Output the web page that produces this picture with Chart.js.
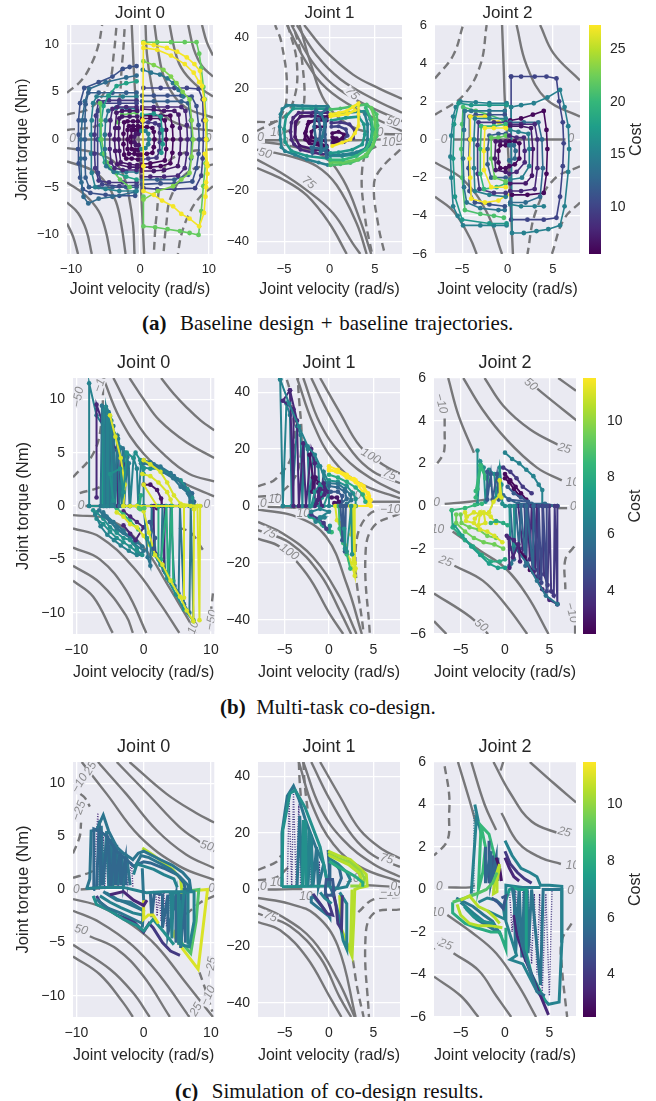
<!DOCTYPE html>
<html>
<head>
<meta charset="utf-8">
<script src="https://cdn.jsdelivr.net/npm/chart.js@4"></script>
<style>
  html, body { margin: 0; padding: 0; background: #fff; }
  #page { position: relative; width: 656px; height: 1101px; overflow: hidden; }
  #page canvas { position: absolute; }
  .cap { position: absolute; font: 21px "Liberation Serif", serif; color: #111; white-space: nowrap; }
</style>
</head>
<body>
<div id="page">
  <div class="cap" style="left:142px;top:311px;word-spacing:1.5px"><b>(a)</b>&nbsp; Baseline design + baseline trajectories.</div>
  <div class="cap" style="left:220px;top:695px"><b>(b)</b>&nbsp; Multi-task co-design.</div>
  <div class="cap" style="left:175px;top:1079px;word-spacing:1.5px"><b>(c)</b>&nbsp; Simulation of co-design results.</div>
</div>
<script>
// axis ticks
const ticksV0 = [-10, 0, 10];
const ticksV = [-5, 0, 5];
const ticksT0 = [-10, -5, 0, 5, 10];
const ticksT1 = [-40, -20, 0, 20, 40];
const ticksT2 = [-6, -4, -2, 0, 2, 4, 6];
const costTicksA = [10, 15, 20, 25];
const costTicksB = [4, 6, 8, 10];
const costRangeA = [5.5, 27.3];
const costRangeB = [2.5, 11.5];
const viridis = ['#440154','#482878','#3e4989','#31688e','#26828e','#1f9e89','#35b779','#6ece58','#b5de2b','#fde725'];

// ---- row a, joint 0
const a0Solid = [
  [-10.6,-.9,-7,-1.3,-4,-2.2,-2.5,-3.6,-1.6,-6,-1,-9,-.8,-12],
  [-10.6,-2.3,-7,-3.2,-5,-4.5,-3.5,-6.5,-2.7,-9,-2.1,-12],
  [-10.6,-4.5,-8,-5.8,-6,-7.5,-5,-9.5,-4.3,-12],
  [-10.6,-6.6,-9,-7.7,-7.8,-9.5,-7,-12],
  [-10.6,-8.8,-9.7,-10.2,-9,-12],
  [10.6,.9,7,1.3,4,2.2,2.5,3.6,1.6,6,1,9,.8,12],
  [10.6,2.3,7,3.2,5,4.5,3.5,6.5,2.7,9,2.1,12],
  [10.6,4.5,8,5.8,6,7.5,5,9.5,4.3,12],
  [10.6,6.6,9,7.7,7.8,9.5,7,12],
  [10.6,8.8,9.7,10.2,9,12],
  [-1.2,12,-.8,6,-.2,0,.2,-6,.6,-12],
  [-9,0,-4,0,0,0,4,0,9,0]
];
const a0Dashed = [
  [-10.6,4.9,-8.5,6.2,-7,8,-6,10,-5.5,12],
  [-10.6,2.6,-7,3.4,-4.5,6,-3.8,9,-3.4,12],
  [-10.6,1,-6,1.5,-3.5,3,-2.6,8,-2.2,12],
  [10.6,-4.9,8.5,-6.2,7,-8,6,-10,5.5,-12],
  [10.6,-2.6,7,-3.4,4.5,-6,3.8,-9,3.4,-12],
  [10.6,-1,6,-1.5,3.5,-3,2.4,-8,2,-12]
];
const a0Labels = [[-9.8,.1,'0',0],[9.9,.1,'0',0]];
const a0Traj = [
  [11,[-.7,-5.9,-3,-5.9,-5,-5.8,-7.2,-5.6,-8.3,-5.2,-8.7,-4,-8.9,-2.5,-9,-1,-8.9,.5,-8.9,2,-8.7,3.8,-8.1,5.4,-6,6,-4,6.6,-2.5,7.4,-1.5,7.6,-.5,7.7]],
  [13,[-.7,-5.5,-4,-6,-6,-6.2,-7.5,-6.7,-8.2,-6,-8.5,-4.5,-8.6,-2,-8.6,0,-8.4,2,-8,4,-7.4,5.3,-5,6,-2,6.5,-.5,6.7]],
  [12,[-.5,-5,-2,-5,-4,-5,-6,-5,-7.4,-5,-7.9,-4,-8,-2,-8,0,-8,2,-7.9,3.7,-7.5,4.9,-6,4.9,-4,4.9,-2,4.9,-.5,4.9]],
  [15,[-.5,-5.4,-3,-5.4,-5,-5.2,-6.5,-5,-7,-3.5,-7.1,-1.5,-7.1,.5,-7,2,-6.8,3.8,-6.3,4.5,-4.5,4.5,-2.5,4.5,-.5,4.5]],
  [9,[-.5,-4.5,-2.5,-4.5,-4.5,-4.5,-6,-4.3,-6.5,-3,-6.6,-1.5,-6.6,.5,-6.4,2.5,-6,4,-4.5,4.1,-3,4.1,-.5,4.1]],
  [10,[-.5,-4.8,-3,-4.9,-5.5,-4.7,-6.1,-3.5,-6.2,0,-6.1,3,-5.5,3.8,-3,3.8,-.5,3.8]],
  [18,[-.5,6.1,-2,5.9,-3.4,5.6,-4.6,4.6,-5.3,3.5,-5.7,1.5,-5.8,0,-5.5,-1.5,-5.1,-2.4,-4.3,-3,-3.4,-3.5,-2,-3.9,-.5,-4.2]],
  [22,[-5.8,3.8,-5.7,2,-5.6,0,-5.2,-1.5,-4.8,-2.4,-3.9,-3.3,-2.9,-4.2,-1.5,-5]],
  [22,[-.5,2.8,-1.5,2.7,-2.6,2.6,-3.2,1.8]],
  [14,[-.5,3.2,-2,3.3,-3.5,3.3,-4.6,3,-5,2,-5.1,.5,-5.1,-1,-4.9,-2.8,-3.8,-3.4,-2,-3.4,-.5,-3.4]],
  [8,[-.5,3.4,-2,3.4,-3.3,3.4,-4,3.2,-4.3,2,-4.4,.5,-4.4,-1,-4.2,-2.4,-3.7,-3,-2.5,-3.2,-.5,-3.2]],
  [7,[-.4,3,-1.5,3,-2.6,3,-3.4,2.8,-3.6,1.2,-3.7,0,-3.6,-1.2,-3.3,-2.6,-1.5,-2.9,-.4,-2.9]],
  [7,[-.4,2.4,-1.5,2.4,-2.6,2.4,-3,2.2,-3.1,1.2,-3.1,0,-3,-1.2,-2.8,-2.4,-1.5,-2.6,-.4,-2.7]],
  [6,[-.3,1.9,-1,1.9,-1.8,1.9,-2.3,1.8,-2.4,.6,-2.4,-.5,-2.3,-1.6,-2,-2,-1.2,-2,-.3,-2.1]],
  [6,[-.3,1.4,-1,1.4,-1.6,1.4,-1.8,1,-1.8,0,-1.8,-1,-1.6,-1.5,-.8,-1.5,-.3,-1.6]],
  [6,[-.3,1,-.8,1,-1.2,1,-1.3,.3,-1.3,-.3,-1.2,-1,-.8,-1.1,-.3,-1.1]],
  [7,[-.2,.6,-.6,.6,-.8,.3,-.8,-.3,-.6,-.6,-.2,-.6]],
  [11,[.3,4.6,2,4.6,4,4.6,6,4.6,7.5,4.5,8.2,3.5,8.5,1.5,8.6,0,8.5,-1.5,8.2,-3,7.6,-4.4,5,-4.6,3,-4.6,.3,-4.7]],
  [10,[.5,5.4,3,5.4,5,5.4,6.8,5.4,8.5,5.3,9.1,4.2,9.2,2,9.2,0,9.1,-2,8.9,-3.8,8,-5.1,5,-5.2,2.5,-5.2,.5,-5.1]],
  [12,[.3,4,2,4,4,4,6,4,7,3.8,7.4,2,7.5,0,7.4,-2,7,-3.7,5,-4.2,2.5,-4.2,.3,-4.2]],
  [8,[.3,3.4,2,3.4,4,3.4,6,3.4,6.6,3,6.8,1.5,6.9,0,6.8,-1.5,6.5,-3,5.5,-3.8,3.5,-3.9,1.5,-3.9,.3,-3.9]],
  [14,[.4,7.3,1.6,7,2.9,6.8,4,6.4,4.8,5.9,5.6,5.2,6.3,4.5]],
  [7,[.3,3.2,2,3.1,3.5,3,5,3,5.6,2.6,5.8,1.2,5.9,0,5.8,-1.5,5.5,-2.8,3.5,-3.2,2,-3.3,.3,-3.3]],
  [6,[.3,2.5,1.5,2.5,3,2.5,4.4,2.5,4.7,1.4,4.8,0,4.7,-1.4,4.4,-2.5,3,-2.8,1.5,-2.9,.3,-2.9]],
  [6,[.3,2.2,1.5,2.2,3,2.2,3.6,2,3.8,1,3.8,0,3.8,-1,3.6,-2.2,1.5,-2.5,.3,-2.6]],
  [9,[.3,1.8,1.2,1.8,2.2,1.7,2.8,1.5,2.9,.7,2.9,-.3,2.8,-1.2,2.4,-1.9,1.2,-2,.3,-2.1]],
  [6,[.2,1.3,1,1.3,1.8,1.2,2,.8,2.1,0,2,-.8,1.8,-1.4,1,-1.5,.2,-1.6]],
  [15,[.2,.9,.8,.9,1.2,.6,1.3,0,1.2,-.5,.8,-.9,.2,-1]],
  [17,[.3,2.6,2,2.7,3,2.4,3.2,1,3.3,-.5,3.1,-1.4]],
  [22,[.5,10.2,2.5,10.2,4.5,10.2,6.5,10.2,8.2,10.2,8.6,9,8.9,7.5,9.2,5.5,9.4,4.2,9.6,2,9.7,0,9.5,-2.5,9.2,-4.9,8.9,-7.5,8.5,-10,7.2,-9.8,5.8,-9.6,4,-9.4,2.2,-9.2,.5,-9.1,.5,-6]],
  [23,[.5,8.2,2,7.8,3.4,7.3,4.5,6.6,5.3,5.9,6.2,5,7.2,4.2,7.5,2,7.7,0,7.5,-1.8,7.2,-3.5,6,-4.2,4.8,-4.9,2.6,-5.4,.5,-6.3]],
  [27,[.5,10.1,2,9.9,3.9,9.6,5.4,9.2,6.8,8.6,7.9,7.9,8.7,7.2,9,5.6,9.3,4.2,9.5,2,9.6,0,9.8,-2.8,9.6,-5,9.3,-7.7,8.6,-9.1,7.2,-8.3,6,-7.8,4.8,-7,3.2,-6.4,2,-5.8,.5,-5.4,.5,-2.8,.4,2,.5,10.1]],
  [27,[.5,9.6,2.5,9.4,4.5,8.8,6.5,7.9,7.8,7,8.6,6]],
  [27,[9.4,-1.5,9.7,-2.5,9.8,-3.6,9.6,-4.5,9.5,-6]]
];

// ---- row a, joint 1
const a1Solid = [
  [-3.6,45,-1.4,33,1.2,23.7,4.9,15.8,8,10.5],
  [-4.2,45,-2,31,.4,21.5,3.5,14.5,8,7.2],
  [-4.7,45,-2.5,30,-.3,20,3,12,8,3.3],
  [-2.8,45,-.5,35,2.6,25.5,5.5,20,8,16],
  [-8,-7.9,-5.4,-13,-2.5,-20,.4,-29,2.6,-41,3.4,-45],
  [-8,-11.2,-5.1,-15.8,-2.5,-22,0,-33,1.9,-45],
  [-8,-4,-4.3,-6.6,-1.4,-10.5,.8,-18,3,-33,4.1,-45],
  [-8,-.7,-4.3,-2.6,-.7,-6.6,1.5,-15.8,3.4,-32,4.6,-45],
  [-8,-.3,-3,-.3,3,-.3,8,.3],
  [8,2,5,2.5,2,6,-.5,15,-2,29,-3.3,45]
];
const a1Dashed = [
  [-8,3.3,-5.4,9.2,-4.7,20,-5.3,38,-6,45],
  [-8,6.9,-5.6,7.5,-4,15,-3.6,30,-4.6,45],
  [-8,1.5,-4.5,3.5,-3,10,-3,30,-4,45],
  [7.8,-4,5.6,-11.8,4.9,-18,5.4,-34,6.1,-45],
  [8,-1.5,4.5,-4,3.6,-12,3.9,-30,4.7,-45]
];
const a1Labels = [[2.5,18,'75',45],[7,7,'50',15],[5.2,2.6,'10',0],[-5.8,2.6,'10',0],[-7.6,.6,'0',0],[7.7,.3,'0',0],[6.5,-1.3,'10',0],[-4.9,-1.3,'0',0],[-7.1,-5.5,'50',15],[-2.3,-17,'75',40]];
const a1Traj = [
  [15,[-.2,13,-1.5,13,-3,13.2,-4,13.4,-4.7,13.4,-5.2,12,-5.4,9.9,-5.5,5,-5.4,0,-5.3,-3,-4.9,-4.6,-3.8,-6,-2.5,-7.9,-1.2,-9,-.2,-10]],
  [17,[-.2,12,-2,12.2,-4,12.2,-4.8,9,-5,4,-4.9,-1,-4.2,-4.5,-2.5,-6.5,-.2,-7.5]],
  [8,[-.2,10.5,-1.8,10.6,-3.4,10.5,-4,8.5,-4.2,6.6,-4.3,3,-4.2,0,-3.9,-2,-3.2,-4,-1.8,-5.2,-.2,-6]],
  [7,[-.2,9,-2,9.3,-3.2,9,-3.7,7,-3.8,1,-3.3,-2.5,-1.5,-4,-.2,-4.4]],
  [6,[-.3,7.5,-1.3,7.5,-2.3,7,-2.6,3,-2.7,0,-2.2,-1.5,-1,-2.5,-.3,-3]],
  [6,[-.3,8.5,-1.5,8,-2.4,6,-2.7,2.5,-2.2,-.2,-1.2,-1.5,-.3,-2.5]],
  [6,[-.5,5,-1.5,5,-2,3,-2,1,-1.2,0,-.5,-.5]],
  [13,[-.3,12,-1,10,-1.5,11.5,-1.7,5,-1.5,0,-1.9,-5,-2,-3,-.5,-4,-.3,-7]],
  [12,[-1.2,8,-1,4,-1.1,0,-.9,-3,-.3,-5,-.5,2,-.4,8]],
  [14,[-.9,10,-.5,6,-.8,1,-1,-5,-.3,-3]],
  [16,[.1,9.9,2,10.5,4.1,11.2,4.5,8,4.7,4,4.5,-2.6,3.6,-4.5,2.6,-6,1.4,-6.5,.1,-6.5]],
  [15,[.1,-6,1.5,-6,3,-5,4,-3.5,4.2,0,4.2,6,3.9,10]],
  [17,[.2,7.5,1.8,8.5,3.2,9,3.8,6,3.9,2,3.6,-2,2.5,-4,1,-5,.1,-5.3]],
  [21,[.1,11.8,1.2,12.2,2.3,12.9,3.2,13.4,4.1,13.8,4.7,12,5.2,9.9,5.3,5.5,5.2,1.3,4.8,-2.5,4.1,-6.6,3.2,-8,2.3,-9.2,1.2,-9.7,.1,-10.1]],
  [22,[.1,-9,1.5,-9,3,-8,4,-6,4.8,-2,5,2,5,8,4.6,12.5]],
  [20,[.1,-8,1.5,-8,3,-6.5,4,-4,4.6,0,4.8,4,4.6,8,4,12.5]],
  [9,[.2,6.5,1.2,6.8,2.2,6,2.8,3.5,2.6,.5,1.6,-1,.3,-1.4]],
  [10,[.2,5,1,5.2,1.8,4,2,1.5,1.4,0,.4,-.5]],
  [6,[.3,2.5,1,3,1.6,2,1.4,.5,.8,-.5,.4,.5]],
  [6,[.3,1,.8,.5,.9,-1,.4,-1]],
  [27,[.1,9.9,1,10.4,1.9,11.2,2.6,12.8,3.2,14.2,3.2,10,3.2,5.3,2.8,2.5,2.3,0,1.4,-1.2,.3,-2.6]],
  [27,[.1,9,1,9.5,2,10,2.8,11.5]]
];

// ---- row a, joint 2
const a2Solid = [
  [-.6,6,-.4,3.5,-.3,2.1,0,0,.3,-3,.6,-6],
  [1,6,2.1,3.9,4.3,2.1,8,1.2],
  [3.6,6,5.1,4.5,8,3.1],
  [-8,-1.2,-4.9,-2.1,-2.3,-3.8,-.6,-6],
  [-8,-3,-5.9,-3.8,-4.1,-5.2,-3.4,-6],
  [-6,0,-3,0,0,0,3,0,6.4,0]
];
const a2Dashed = [
  [-8,3.2,-6,4.4,-4.9,6],
  [-8,1.3,-4.9,2.3,-3,3.9,-2.3,6],
  [8,-1.4,5.1,-2.1,3.1,-3.8,2.2,-6],
  [8,-3.3,6.2,-4.2,4.9,-6]
];
const a2Labels = [[-7,0,'0',0],[7,.05,'0',0]];
const a2Traj = [
  [15,[-.1,1.9,-2,1.9,-3.5,1.95,-5.2,2,-5.7,1.7,-6,1.2,-6.2,.2,-6.3,-.9,-6.2,-2,-6,-3.5,-5.5,-4,-4.9,-4.5,-3,-4.5,-1.5,-4.5,-.1,-4.5]],
  [17,[-.1,1.8,-2,1.8,-4,1.8,-5.4,1.9,-5.9,.8,-6,-1,-5.8,-3,-5,-4.2,-2,-4.4,-.1,-4.4]],
  [21,[-.4,1,-2,1.3,-3.5,1.5,-4.9,1.7,-5,.8,-5.1,-.5,-5,-2,-4.7,-3.7,-3,-3.9,-1.5,-4,-.4,-4.1]],
  [14,[-.3,1.5,-2,1.5,-4,1.5,-4.7,1.5,-4.8,.5,-4.9,-1,-4.8,-2.5,-4.5,-3.3,-3,-3.6,-1,-3.7,-.3,-3.7]],
  [11,[-.3,1.3,-2,1.3,-3.5,1.3,-4.2,1.2,-4.2,0,-4.3,-1.5,-4.2,-2.7,-3.6,-3.3,-2,-3.4,-.3,-3.5]],
  [27,[-.1,.6,-1,.9,-2.5,1.2,-4.1,1.2,-4.1,0,-4.2,-1,-4.1,-2,-4,-3.1,-2.5,-3.3,-1,-3.2,-.1,-2.9]],
  [15,[-.2,1.1,-2,1.1,-3.6,1.1,-3.7,0,-3.7,-1.5,-3.6,-2.7,-2,-2.9,-.2,-3]],
  [9,[-.2,.9,-1.5,.9,-3.2,.9,-3.3,-.3,-3.3,-1.8,-3.1,-2.6,-1.5,-2.8,-.2,-2.8]],
  [20,[-.2,.8,-1.5,.7,-2.9,.7,-3,-.5,-3,-1.8,-2.6,-2.6,-1.2,-2.5,-.2,-2.3]],
  [27,[-.2,.6,-1.5,.6,-2.5,.6,-2.6,-.6,-2.6,-1.6,-1.8,-2.5,-.2,-2.5]],
  [12,[-.2,.3,-1,.3,-2,.2,-2.2,-.5,-2.2,-1.3,-1.8,-2,-.2,-2]],
  [22,[-.2,.2,-1,.1,-1.8,.1,-1.8,-1,-1.4,-2,-.2,-2.2]],
  [7,[-.2,-.1,-.8,-.1,-1.3,-.1,-1.4,-1,-1.3,-1.6,-.2,-1.7]],
  [6,[-.2,-.3,-.8,-.3,-1,-.6,-1,-1.2,-.8,-1.5,-.2,-1.5]],
  [10,[.4,3.3,1.5,3.3,3,3.3,4.3,3.3,5.4,3.2,5.7,2,6.1,.9,6.2,-.2,6.1,-1.4,5.8,-3,5.4,-4.1,4,-4.2,2.2,-4.2,.4,-4.2,.4,3.3]],
  [15,[.4,1.7,1.5,1.8,2.9,1.9,4.4,2.2,5.8,2.6,6.3,1.7,6.7,.7,6.8,-.5,6.7,-1.7,6.3,-3.5,5.8,-4.5,4.5,-4.7,3.2,-4.8,1.8,-4.9,.5,-4.9,.4,1.7]],
  [15,[.3,-3.4,1.5,-3.5,3,-3.5,4,-3.5]],
  [6,[.3,1,1.5,1.1,2.8,1.3,4,1.5,4.3,.5,4.4,-.5,4.3,-1.8,4,-2.8,2.2,-2.9,.5,-2.9]],
  [13,[.3,.9,1.8,.9,3.4,.9,3.8,0,3.9,-1.5,3.6,-3,2,-3.3,.3,-3.3]],
  [8,[.3,.8,1.5,.8,3,.8,3.3,0,3.3,-1.5,3,-2.6,1.5,-2.7,.3,-2.7]],
  [7,[.3,.7,1.5,.7,2.6,.6,2.8,-.5,2.7,-1.9,2,-2.3,.3,-2.3]],
  [15,[.3,.5,1.2,.4,2.3,.3,2.4,-.5,2.4,-1.4,1.6,-2,.3,-2.1]],
  [8,[.2,.2,1,.1,1.8,.1,1.9,-.6,1.9,-1.2,1,-1.7,.2,-1.8]],
  [6,[.2,-.1,.8,-.1,1.3,-.2,1.3,-1,.8,-1.3,.2,-1.4]],
  [13,[.2,-.3,.7,-.3,.9,-.6,.8,-1,.2,-1.1]]
];

// ---- row b, joint 0
const b0Solid = [
  [2.6,12,4.5,10.5,6.3,9.3,8.5,8,10.5,7.1],
  [-2.1,12,0,10,2.4,8,6.3,6,10.5,4.5],
  [-4.5,12,-.6,7.4,3.4,4.6,6.8,3,10.5,2.3],
  [-6,12,-3.6,8.3,0,4.9,4.3,2.7,10.5,.9],
  [-10.5,-.85,-5,-1.3,-.1,-3.8,3.4,-7.2,7.8,-11.9],
  [-10.5,-2.1,-6.5,-2.9,-1.6,-5.7,2.4,-9.1,5.3,-11.9],
  [-10.5,-3.9,-6.5,-5,-2.6,-7.9,.4,-11.9],
  [-10.5,-5.6,-6.5,-7.2,-2.6,-10.3,-1.6,-11.9],
  [-10.5,-7,-7.5,-8.5,-4.6,-11.9],
  [-9.3,0,-6,0,-3,0,3,0,9.4,0]
];
const b0Dashed = [
  [-10.5,2.7,-7.5,4.9,-6.3,7.7,-6,12],
  [-9.5,1.2,-6,2,-4,4],
  [10.3,-8.2,9.8,-11],
  [8.8,-4.1,7,-2.5,5,-2]
];
const b0Labels = [[-9.7,10.2,'−50',-80],[-6.4,11.6,'−10',-70],[-9.3,0,'0',0],[9.4,.1,'0',0],[10.1,-10.7,'−50',-80],[7.2,-11.7,'−10',-70]];
const b0Traj = [
  [6,[-5.5,-1,-4,-2.2,-2,-3,-.5,-4.5,0,-4.2,-1.5,-3.5,-3,-2.3,-4.5,-1.5,-6,-.6]],
  [7,[-7.5,-.4,-7,-1.2,-6,-1.7,-5,-2.4,-4,-3,-3,-3.4,-2,-3.8,-1,-4.3,-.2,-4.6]],
  [7,[-7,-.6,-6,-1.2,-5,-2,-4,-2.5,-3,-3,-2,-3.2,-1,-4]],
  [6.5,[-7.2,-.8,-6.4,-1.9,-5.4,-2.7,-4.4,-3.2,-3.4,-3.7,-2.2,-4.2,-1,-4.6]],
  [6,[-6.6,-.4,-6,-.9,-5,-1.5,-4,-2,-3,-2.5,-2,-2.8,-1,-3.4,-.2,-3.8]],
  [3.5,[-3,-.5,-2,-1,-1,-1.5,0,-2,-1.2,-3.2,-2,-2.6,-3,-1.8]],
  [8.5,[-4,-.2,-3,-.8,-2,-1.4,-.8,-2.2]],
  [7,[-8.1,0,-6,0,-4,0,-2,0,0,0,2,0,4,0,6,0,8,0]],
  [6.5,[-8.1,0,-8.1,11.5,-7,8.5,-6,7.5,-5.8,0,-5.6,9.3,-5.2,8,-5,0,-4.8,8,-4.4,6.8,-4.2,0,-3.8,6.3,-3.5,5.5,-3.2,0,-2.8,5,-2.2,4,-2,0,-1.5,4.5,-1,3.5,-.8,0,-.4,4,0,3.5,0,0]],
  [3.5,[-7,.8,-7,9.5,-6.2,8,-5.6,7,-5.5,0,-4.8,6,-3.9,5.2,-3.8,0,-3.4,4.5,-2.5,3.5]],
  [7.5,[-6.2,0,-6,9.2,-5.5,8.5,-5.3,.3,-5,8.4,-4.8,7.5,-4.6,.3]],
  [6,[-6.4,0,-6.2,9.4,-5.7,9,-5.6,0,-5.2,8.8,-5.1,0,-4.5,7.5,-4.4,0,-3.9,6.6,-3.6,0,-3.1,5.4,-2.9,0,-2.4,4.6,-2.1,0]],
  [6.5,[-6,0,-5.9,9,-5.5,9,-5.4,0,-5.3,8.6,-4.9,8,-4.7,0]],
  [11,[-3,0,-2.8,2,-3.4,4.5,-4.2,6.5,-5,8.5]],
  [7,[-4.5,.5,-5,3,-3.5,3.5,-3,1.3,-2.5,5,-1.5,4.5,-1.2,5,-.5,4.3,0,3]],
  [5.5,[0,4.2,1.5,3.9,3,3.3,4.5,2.8,6,2,7.2,1.2,7.5,.4,7.5,0]],
  [7,[0,3.6,1,3.5,2.5,3.5,4,3,5.5,2.4,6.5,1.6,7.2,.8,7.3,0]],
  [6,[0,4.3,1,4.1,2.5,3.7,4,3.1,5,2.5,6,1.7,6.8,1,6.8,0]],
  [6,[0,4,1.2,3.8,2.8,3.2,4.4,2.6,5.5,1.8,6.6,1.2,7,.4]],
  [3,[0,2,1,2,2,1.5,2.6,.7,2.7,0,2,-.2]],
  [11,[-.2,3,1,2.8,2.2,2.2,3.5,1.3,4,.6,4.3,0,2,0,0,2]],
  [11,[0,4.3,1,3.9,2.5,3.2,3.5,2.2,4.5,1,5.5,.2,8,0]],
  [8,[-.6,-.1,-.4,1,-.8,.1]],
  [11,[-4,-.6,-3,-1,-2,-1.7,-1,-2,0,-2.8,.8,-3.6,1.6,-4.6]],
  [6,[0,0,.6,-4.8,1,-5.6,1.2,0,1.8,-4.5,2.6,-5.5,2.8,0,3.2,-6.2,3.8,-7,4,0,4.6,-7.5,5.2,-8.2,5.4,0,6,-9.2,6.8,-10,7,0,7.4,-10.7]],
  [3.5,[1.5,0,1.5,-4,2,-4.6,3,-6,3.2,0]],
  [8,[2.2,0,2.2,-5,2.6,-5,3.4,0,3.6,-6.5,4.2,0,4.4,-7]],
  [7,[.5,-3,1.5,-4.5,2.5,-5.5,3.5,-6.8,4.8,-8.3,6,-9.7,7.4,-10.8]],
  [11,[0,-.5,.8,-2.5,1.7,-4.6,2.8,-5.5,4,-7,5.4,-8.5,6.4,-9.8,7.4,-10.8,7.5,-.3,8,0,8.3,-10.7,8.4,0,6,0,6,-8.6]],
  [11,[-2,0,-3,0,-1,0,5.5,0,7,0,8.3,0]],
  [9,[-.7,-.2,-.5,-.3,.1,-.2]],
  [5,[1.5,-4,1.7,-3,.9,-1.5]]
];

// ---- row b, joint 1
const b1Solid = [
  [-1,45,1.2,33,3.5,21,6.1,14.5,8,11.4],
  [-2,45,.1,31.7,2.7,18.7,5,12,8,8],
  [-2.9,45,-1,29,1.6,17.5,5,9.2,8,4.5],
  [-3.6,45,-1.8,29,.5,16,3.5,8,8,2.7],
  [-8,-5.6,-5.2,-9.7,-1.8,-18,1.2,-32,3.1,-45],
  [-8,-8.5,-4.4,-13,-1,-24,1.4,-38,2.5,-45],
  [-8,-11.5,-5.5,-14.4,-2.5,-24,.1,-38,1.6,-45],
  [-8,-1.2,-3.6,-3.8,-.3,-10.9,2,-27.5,3.7,-45],
  [4.6,1.5,6,1.5,8,1.5],
  [-8,-.2,-5,-.5,-2,-1]
];
const b1Dashed = [
  [-8,6.9,-5.9,9.8,-4,20,-4.4,40,-4.8,45],
  [-8,3.3,-5.5,4.5,-3.3,15,-3.5,45],
  [8,-2.6,5,-7.3,4.1,-18,4.6,-45],
  [8,-1,4.5,-3,3,-15.6,3.9,-45]
];
const b1Labels = [[4.7,17.5,'100',30],[6.8,11,'75',20],[-6.1,2.1,'10',0],[-7.4,.7,'0',0],[2.9,3.7,'10',0],[-2.9,-2.6,'10',0],[6.9,-1.2,'−10',0],[-6.7,-9.5,'75',25],[-4.5,-16.2,'100',35]];
const b1Traj = [
  [7,[-5.2,0,-3,0,-1,0,1,0,3,0]],
  [6.5,[-5.5,44.5,-5.2,0,-4.8,36,-4.4,32,-4.2,0,-3.6,28,-3.2,25,-3,0,-2.8,22,-2.4,20,-2.2,0,-1.8,18,-1.2,14,-1,0,-.6,12,0,8,0,0]],
  [3.5,[-4.4,40.7,-5.2,37,-4,34,-4,0,-4.4,40.7,-3.6,30,-3.4,0,-2.9,22,-2.6,0,-2,20,-1.6,15,-1.6,0]],
  [3,[-2.2,18,-1.8,10,-1.9,5,-1.5,10,-1.2,8]],
  [6.5,[-5.5,44.5,-4.5,36,-3.4,28,-2.4,21,-1.6,18,-1,14,-.3,8]],
  [7,[-1.5,2,-2,0,-1.6,5,-1,7.5,-.8,3,-.4,7,0,5,-.6,0]],
  [3.5,[-.8,0,-1.2,5,-1.3,2,-.5,4,-.6,8,-.2,5,-1,6,-1.4,1]],
  [27,[0,14,1,12.7,2,11,3,9,3.9,6.9,4.4,4.5,4.7,2.1,4.7,0,3,0,1.5,0]],
  [27,[0,12.5,1,12,2,10,3,8.4,3.8,5,4.3,2.5]],
  [27,[0,13,.8,12.2,1.8,11,2.8,9.5,3.6,7.5,4.5,3.5,4.4,.5]],
  [8,[0,11,1,10,2,8.5,3,6.5,3.8,4,4.1,1.5]],
  [7,[0,9,1,8.5,2,7,2.7,4.5,3,2.5,3,0]],
  [6,[0,8,1,7.8,1.8,6,2.4,4,2.5,2,2,.8]],
  [5.5,[0,7,1,6.5,1.8,5,2,2.5,1.2,.5]],
  [5,[.2,5,1,5,1.5,3.5,1.4,1.5,.7,.8]],
  [3,[.3,3,.9,3,1.1,1.5,.6,1]],
  [8.5,[-2.1,-3.8,-1.5,-5,-.8,-6.5,-.1,-8.5,.3,-9.2]],
  [7,[-2.2,-3.5,-1.3,-5,-.6,-7,0,-9,.1,-7]],
  [4,[-2,-3,-1.2,-4.5,-.6,-6,-.3,-8]],
  [6.5,[-2,-2,-1,-1,0,-2,-1,-4,-.5,-4,-1.5,-5.5]],
  [11,[.7,0,.9,-5,1.2,-6,1.4,-8.5,1.9,-14,2.3,-19,2.7,-22,2.9,-24.5,2.9,0,2.9,-20,2.6,0]],
  [11,[2.6,0,2.7,-20,3,-22,2.4,0,2.5,-10]],
  [8.5,[1.1,0,1.2,-8,1.6,-13,2,-17,2.4,-22]],
  [5,[1.3,0,1.5,-12,1.6,0,1.8,-16,1.9,0]],
  [7,[1.7,-8,1.8,-15,2,-16,2.5,0,2.6,-17]]
];

// ---- row b, joint 2
const b2Solid = [
  [-6.4,6,-5.2,4.2,-3.5,2.5],
  [-4.7,6,-2.5,4.5,.2,3.1,3.6,1.8,6.4,1.2],
  [-2.3,6,-.2,4.7,2.8,3.6,6.3,2.8],
  [2.8,5.8,4.2,5.3,8.1,4],
  [6,6,8,5.4],
  [-6.8,.1,-4,.2,-2.1,.3],
  [5.9,-.1,7,-.1],
  [-5.9,-1.2,-2.8,-2.1,0,-2.9,2.5,-4.2,4.9,-6],
  [-5.7,-2.8,-2.5,-3.5,.2,-4.7,2.5,-6],
  [-8,-4.1,-3.9,-5.2,-1.9,-6],
  [-8,-5.4,-6.6,-6]
];
const b2Dashed = [
  [-6.8,4.1,-6.8,3.4,-6.8,2.8,-7,2.4,-8,1.8],
  [7.8,-1.9,6.8,-2.5,6.8,-3.9],
  [7.9,-5,7.9,-6]
];
const b2Labels = [[2.9,5.7,'50',40],[-7.2,4.8,'−10',75],[6.7,2.7,'25',15],[7.6,1.1,'10',0],[-7.7,.15,'0',0],[7.7,-.05,'0',0],[-7.6,-1.1,'10',0],[-6.7,-2.6,'25',20],[7.5,-5,'−10',75],[-2.7,-5.6,'50',40]];
const b2Traj = [
  [7,[-3.1,2.6,-3.1,.1,-2.8,2.1,-2.4,1.8,-2.2,.2,-1.8,1.7,-1.2,1.5,-1,.4,-.6,1.8,-.4,1,-.3,.1]],
  [8.5,[-3.3,.7,-2.8,1.9,-2.2,1.3,-1.7,1,-2.7,1.9,-3.1,.8,-3.3,.4]],
  [5,[-2,1.6,-2,.3,-1.6,1.5,-1.4,.3,-.9,1.5,-.7,.3]],
  [4,[-.2,1.8,.6,1.6,1.3,1.3,2,.9,3,.6]],
  [2.7,[0,1.5,.6,1.2,1.2,.9,1.8,.6,2.4,.3]],
  [2.7,[0,1.3,.5,1.1,1,.8,1.6,.5]],
  [6.5,[0,2.5,.8,2.2,1.6,2,2.4,1.7,3.2,1.4,3.8,1,4.2,.75,4.2,0]],
  [5.5,[-.2,.5,.5,.3,1.5,.1,3,.1,4.5,.1,5.9,0]],
  [5,[.3,.9,1,.6,1.8,.4,2.6,.2,.4,.3]],
  [7,[0,0,1.5,0,3,0,4.5,0,5.9,0]],
  [4,[4.2,0,4.4,-3.2,4.8,-3.7,5,0,5.2,-4,5.5,-4.2,5.6,0,5.9,-4.6,5.9,0]],
  [3.5,[1.5,0,2,-2,2.5,0,2.8,-2.5,3,0,3.4,-3,3.6,0,3.9,-3.4]],
  [4.5,[2.2,0,2.4,-2.6,2.6,0,3.1,-3,3.3,0,3.7,-3.3,3.8,0,4.1,-3.6,4.3,0,4.7,-4,4.7,0]],
  [5.5,[.6,0,1,-2.5,1.2,0,1.6,-2,1.8,0,2.3,-2.8,2.4,0,3.2,-3,3.2,0]],
  [7,[.5,0,.6,-2,1.1,-1.8,1,0]],
  [3.5,[.2,-1.4,1,-1.6,2,-2.3,3.2,-3.1,4.2,-3.9,5,-4.4,5.9,-4.6]],
  [2.7,[1.5,-2,2.2,-2.4,2.8,-3]],
  [6,[.5,-2.8,.7,-2.7,1.2,-2,2.5,-2.7,3.6,-3.5,4.6,-4.2,5.9,-4.6]],
  [3.5,[.5,-2.9,.4,-1.5,.9,-2.4,1.5,-1.8,1.7,-2.6]],
  [8,[-6,-.2,-5.9,-1,-5.2,-1.3,-4.5,-1.6,-3.6,-1.9,-2.6,-2.3,-1.6,-2.6,-.6,-2.6,0,-2.5]],
  [8.5,[-6,-.2,-4.5,-.1,-3.4,.05,-2.6,.1]],
  [7.5,[-5.7,-.9,-4.8,-1.4,-3.8,-1.9,-2.8,-2.3,-1.8,-2.7,-.8,-2.9,0,-2.9]],
  [9.5,[-5.5,-.4,-5.5,-.8,-4.5,-1.2,-3.5,-1.5,-2.4,-1.7,-1.2,-1.8,-.2,-2]],
  [9.5,[-5,-.4,-4.9,-.8,-4,-1,-3,-1.1,-2,-1.4,-1,-1.5]],
  [11,[-4.5,-.3,-4.4,-.7,-3.5,-.8,-2.8,-1.1,-2,-1.2,-1.2,-1.4,-.3,-1.7]],
  [11,[-4.3,-.5,-3.5,-.3,-2.8,-.4,-1.8,-.3,-1.3,.2,-.6,.5,-.6,1.2,-.4,.4]],
  [11,[-3.4,-.6,-2.8,-.3,-3,-.9,-2.2,-.8,-2.4,-.3,-1.6,-.5,-1,-.8]],
  [8,[-1.6,-.8,-1,-.7,-.2,-.8,.3,-.9]]
];

// ---- row c, joint 0
const c0Solid = [
  [-9.2,12,-5.5,9,-.6,5,5.3,2.2,10.5,.9],
  [-6.8,12,-2.6,9,1.9,5.6,6.3,3.3,10.5,2],
  [-4,12,.9,8.8,5.3,5.9,8.3,4.5,10.5,3.6],
  [-2.1,12,3.4,9,7.8,7.2,10.5,6.3],
  [-10.5,-.9,-6.5,-1.6,-1.6,-3.4,1.9,-5.3,6.3,-8.8,10.3,-12],
  [-10.5,-2,-6.5,-3.1,-1.6,-5.3,2.4,-8.1,6.8,-12],
  [-8,-4.4,-4,-5.6,-.1,-8.1,3.9,-12],
  [-10.5,-5.2,-5,-7.5,-1.6,-9.7,.9,-12],
  [-10.5,-6.3,-6.5,-8,-3.1,-10.6,-1.6,-12],
  [-9.5,0,-7,.1,-5,.2]
];
const c0Dashed = [
  [-10.5,3.4,-9.5,5,-9.3,6.3],
  [-10.5,1.1,-8,1.6,-7,2],
  [-9.4,9,-8.7,8.6,-8,7.8],
  [10.8,-5,10.9,-6.3],
  [8.3,-7.8,9.5,-10,10.2,-11.5],
  [10.5,-.6,8.5,-1.2,6,-2.5]
];
const c0Labels = [[-7.9,11.4,'25',-60],[-9.5,10,'−10',-60],[-9.6,7.4,'−25',-70],[9.4,4.1,'50',15],[-10,0,'0',0],[10.1,.1,'0',0],[-9.3,-3.8,'50',15],[10,-7.3,'−25',-80],[9.6,-10,'−10',-65],[7.8,-11.3,'25',-60]];
const c0Comb = [
  [3.5,[-7.5,0,-6.8,7.2,-6.6,0,-6,5,-5.8,0,-5.2,5.5,-5,0]],
  [3.5,[-4.5,.3,-4.2,4,-3.8,.3,-3.4,3.5,-3,.3,-2.6,3,-2.4,.2,-1.8,2.6,-1.6,.2]],
  [3.5,[1.8,-.2,2,-2.5,2.3,-.2,2.6,-3,3,-.2,3.4,-3.5,3.8,-.2,4.2,-4.5,4.4,-.2]]
];
const c0Traj = [
  [11,[5.8,-.2,9.5,0,8.1,-7.5,5.8,-5.6,4.5,-4.3,4.7,-3.8]],
  [9,[5.9,-.2,8.2,0,7.8,-3,7,-6,5.9,-5.2,5,-4.5,5,-.3]],
  [10.5,[-5,1,-5,2.5,-4.4,3.4,-4.2,.4]],
  [10.5,[-.2,3.9,1.5,3.2,4.3,1.9,5.5,1,5.7,-.2,5.6,-5]],
  [6,[-6.5,.2,-6.3,6,-6,.4,-5.5,5.5,-5.2,.3,-4.8,4.8,-4.6,.3,-4,4.2,-3.8,.4,-3.2,3.2,-3,.4,-2.4,2.5,-2,.4]],
  [5.5,[-7,.2,-6.6,6.5,-6.2,.4,-5.3,5,-4.9,.3,-4.3,4.4,-4.2,.4,-3.5,3.6,-3.4,.4,-2.7,2.9,-2.6,.4]],
  [5.5,[1,-.3,1.2,-2.6,1.6,-.3,2.8,-.5,2.8,-3.6,3.6,-.5,3.6,-4.2,4.8,-.5,4.8,-5,5.6,-.4,5.5,-5.5,6.2,-.4,6.2,-5]],
  [6.5,[4,-.3,4.2,-4.6,4.4,-.3,5.2,-.3,5.2,-5.2,6,-.3,6.6,-.3,6.6,-5.2]],
  [6,[-8.5,0,-8,1,-7.8,5.5,-7,5.6,-6,7,-5.2,5.5,-4,4,-3,3.4,-2,3,-1.6,2.8,-.8,3.4,0,3.6,2.5,2.8,4.2,2.3,5.8,1.6,6.8,.9,7,0,5.8,0]],
  [5.5,[-7.5,0,-7.4,5.7,-6.5,5.5,-5.5,5,-4,3.6,-2.5,2.8,-1.5,2.2,0,2.6,1,2.5,3,2,5,1.4,6,.6,6.2,-.1]],
  [6.5,[-8.5,.1,-6,.2,-3,.2,-1,-.1,.4,-.3,3,-.2,5.5,-.2,7.5,-.2,7.5,-3,6.8,-5.4,5.6,-5.2,5.4,-1]],
  [6,[-1.4,2,-.4,3.2,.8,3,2.6,2.4,4,1.9,5.4,1.2,6.6,.4,6.6,-.2]],
  [6.5,[-1.5,1.4,-1,2.4,0,2.2,1.5,1.9,3,1.4,4.5,1,5,.2]],
  [4,[-7,-.6,-6.5,-1.2,-4,-2.4,-1.5,-3,0,-4,.8,-3.2,1.4,-3.6,2.8,-5,4,-5.8,5.4,-6.2]],
  [7,[-7.5,-.6,-7,-1.4,-5,-2,-3,-2.8,-1,-3.4,0,-3.9,1.4,-2.8,3,-4,4.5,-5.2]],
  [6,[-7,-.9,-5.5,-1.7,-3.5,-2.2,-1.5,-2.8,-.2,-3.2]],
  [6.5,[-6.5,-.6,-5,-1.2,-3.4,-1.7,-1.6,-2.2,-.2,-2.4]],
  [6,[-5.6,-.3,-4,-.9,-2.4,-1.3,-1,-1.7,0,-2]],
  [6,[-6,-.2,-4,-1,-2,-1.2,0,-2,-.2,-3.6,0,-1,-.2,2]],
  [11,[0,-1,0,-2.8,.7,-2.4,1.4,-2.4,2.2,-3.2]],
  [3.5,[-5,-.5,-3,-.2,-1.5,-1,0,-1.5,.5,-1]]
];

// ---- row c, joint 1
const c1Solid = [
  [-1,45,1.2,33,3.5,21,6.1,14,8,11],
  [-2,45,.1,31.7,2.7,18.7,5,12,8,8],
  [-2.9,45,-1,29,1.6,17.5,5,9,8,4.5],
  [-3.4,45,-1.8,29,.5,16,3.5,8,8,2.7],
  [-8,-3,-4.5,-5,-1.5,-9,1,-20,3,-45],
  [-8,-5.6,-5.2,-9.7,-1.8,-18,1,-32,2.9,-45],
  [-8,-8.5,-4.4,-13,-1,-24,1.2,-38,2.5,-45],
  [-8,-11.5,-5.5,-14.4,-2.5,-24,.1,-38,1.4,-45],
  [-8,0,-6,0,-3,.2],
  [4.4,1.5,6,1.2,8,.8]
];
const c1Dashed = [
  [-8,6.9,-5.9,9.8,-5.4,12],
  [-8,3.3,-6,4.2,-4.5,8],
  [-3.4,45,-3.3,38,-3.1,30],
  [-2.9,45,-2.7,36,-2.4,28],
  [8,-7,5,-8.5,4.1,-18,4.5,-45],
  [8,-2.6,5,-3.5,3.3,-8],
  [2.7,-25,3.2,-35,3.9,-45]
];
const c1Labels = [[6.5,10.8,'75',15],[-5.9,2.4,'10',0],[-7.4,.9,'0',0],[2.7,3.9,'10',0],[-2.6,-2.7,'10',0],[6.9,-1.2,'−10',0],[7.3,.9,'0',0],[-6.6,-9.6,'75',20]];
const c1Comb = [
  [4,[-4.7,1,-4.5,32,-4.2,1,-4,34,-3.7,1,-3.4,30,-3.2,1]],
  [4,[-2.6,1,-2.3,20,-2,1,-1.1,1,-1.1,10,-1,1]]
];
const c1Traj = [
  [6,[-3.6,1,-3.3,26,-3,1,-2.6,22,-2.4,1,-2,19,-1.8,1,-1.4,15,-1.2,1,-.6,9]],
  [6,[-5.3,1,-5.3,20,-4.7,33,-4,36.5,-3.4,32,-2.7,25,-1.5,15,-.6,9,-.1,1.2]],
  [7,[-5.3,1,-5.2,21,-4.4,34,-3.8,35,-2.7,29,-1,15,-.1,1.2,-5.3,1]],
  [6.5,[-2.4,1,-2.2,20,-2,19,-1.9,1.2]],
  [7,[-3,1,-2.9,24,-2.7,24,-2.6,1]],
  [5.5,[-.1,14,0,9,.1,1.2,.4,-1,1,1,1.4,4,1.2,7,.5,10]],
  [6.5,[0,11,1,9,2,6,2.4,3.5,2,1,1,.4,0,1]],
  [10.5,[-.1,13.5,1,12,2.4,10.6,3.5,7.5,4.2,5.3,4.3,1.2,3.4,.6,2.9,0,2.8,-10,2.6,-23.5,1.4,-14,1.2,-2]],
  [10.5,[2.6,0,2.5,-12,2.4,-22]],
  [10,[-.1,12.5,1,11,2.4,9.5,3.5,6.5,4,4,3.8,1.2,2.4,1.2]],
  [10.5,[0,12,1,10.5,2.2,8.8,3.4,5.8,3.7,3,3.5,1.2]],
  [8,[0,10,1,8,2.2,6,3,4.5,3.8,2.5,3.8,1]],
  [6.5,[.3,-1,.6,-3,1,-8,1.6,-18,2,-21,2,-5,1.2,-1]],
  [4,[.5,-1,.8,-6,1,-12,1.4,-14,1.5,-2]],
  [6,[-2,-2.4,-2,-4.5,-1,-7,0,-9.5,.1,-10,-.8,-6,-1.6,-3,-2,-2.4]],
  [4,[-1.8,-1.5,-1,-5,-.2,-8.5,.4,-9,0,-5,-.4,-1]],
  [5,[-.4,.5,-.3,3.5,.4,3.5,.5,1,.5,-2,-.4,-2,-.4,.5]],
  [6.5,[-1,-1,-.5,-3,.3,-5]]
];

// ---- row c, joint 2
const c2Solid = [
  [-5.3,6,-4,4.2,-3.2,3],
  [-3.8,6,-2.3,4,-1,2.8],
  [-1.3,6,.5,4.6,3,3.2,6.3,2.6],
  [-.2,6,-.5,5.6],
  [2.8,6,5.5,5,8,4.1],
  [-.4,3.6,1.5,2.2,4,1.5,6.3,1.2],
  [-6.4,.1,-4,.1,-3.4,.2],
  [-6.5,-1.2,-3.8,-2,-1,-3,1.5,-4.5,3.5,-6],
  [-5.8,-3,-3,-3.8,-1,-5,.7,-6],
  [-8,-4.1,-5,-5,-3,-6]
];
const c2Dashed = [
  [-6.8,5.8,-6.3,4.5,-6.3,3.5,-6.5,2.3,-8,1.6],
  [7.5,-1.6,6.4,-2.4,6.4,-3.6,7,-6],
  [-7,-2.3,-8,-2.8]
];
const c2Labels = [[6.7,2.7,'25',15],[7.6,1.1,'10',0],[-7.4,.15,'0',0],[7.4,-.05,'0',0],[-7.6,-1.1,'10',0],[-6.7,-2.6,'25',20]];
const c2Comb = [
  [6,[-3.5,-.2,-3.5,2,-3.5,3.8]],
  [4,[2,0,2.2,-3,2.6,0,3,-3.5,3.3,-.2,3.6,-4,3.9,-.2,4.2,-4.8,4.6,-.2,5,-5,5.3,0]],
  [3.5,[.5,0,.8,-2,1.2,0,1.5,-2.4]]
];
const c2Traj = [
  [6.5,[-3.4,4,-3,3.2,-2.6,2.5,-3.2,3.5,-3.8,-.2]],
  [6,[2.5,0,2.6,-3,3,0,4,-4.5,4.3,0,6.4,0,6.4,-1.5,6.4,-2.5]],
  [6,[1,.1,1.2,-3,1.6,.1,1.9,-3.2,2.2,.1,2.3,-3.4]],
  [8.5,[-2.7,3,-3,0,-2.5,.8,-2.2,2,-2.7,3,-1.8,2.6,-1.2,1.6,-.6,.8]],
  [5,[-1.8,2.3,-1.8,.3,-1.4,1.6,-1.2,.4,-.8,1.5,-.8,.4]],
  [5.5,[-2.2,2,-2.2,.3,-1.6,1.8,-1.6,.3,-1,1.5,-1,.3]],
  [3,[-1,1.5,-.6,1,-.4,.4]],
  [10.5,[-.6,1.1,-.9,.4,-.9,-.1,-1.3,-.2,-1.2,.4,-.6,1.2]],
  [6,[-5.5,-.4,-3.6,-.8,-2.4,-1.2,-1.4,-1.5,-.4,-2.2]],
  [6.5,[-5,-.6,-3.6,-1.1,-2.4,-1.5,-1.2,-1.8]],
  [6,[-4.4,-.9,-3.2,-1.4,-2,-1.7,-.8,-2]],
  [6.5,[-3,-.6,-2,-.4,-1,-.5,-.2,-.8,0,-1.4,-1,-1.2,-2,-1]],
  [8,[-5.9,-.6,-5.9,-1.1,-4.5,-1.6,-3.2,-1.8,-1.6,-2,-.6,-2,.1,-2.8,.1,-1.8]],
  [9,[-5.9,-.6,-4.5,-.4,-3.2,-.2,-2.1,0,-1.4,.3,-.9,.8]],
  [10.5,[-5.4,-.7,-5,-1.2,-4,-1.6,-3,-1.7,-1.6,-1.7,-.3,-1.8]],
  [10.5,[-5,-.5,-4,-.3,-3,-.8,-2,-1,-1.2,-1.3,-.6,-1.6]],
  [7,[-4.6,-.8,-3.5,-1.3,-2.5,-1.5,-1.2,-1.6]],
  [4,[0,1.8,.6,1.2,1.4,.8,2.2,.5,3,.3]],
  [3.5,[0,1.5,.5,1,1,.6,1.6,.4]],
  [6.5,[0,2.3,.8,1.6,1.8,1,2.8,.8,3.6,.6,4,.2,5,.2,6.4,.15,6.4,-2.5,6.1,-5.3,4.9,-5.4,3.6,-4.8,2,-3.5,.6,-3.3,1.3,-3.1,.1,-1.5,.1,.2,2,.1,4,.1]],
  [7.5,[.1,-.5,.5,0,1,.1,1.5,0,2.4,0,2.4,-3,3,-4,4,-4.8,4.6,-5.3]],
  [3.5,[1,-1.2,1.4,-2.2,2.2,-3.2,3,-4,4,-5,4.9,-5.9]],
  [6,[.8,.1,1.6,-2,2,-2.7,2.8,-3.8,3.6,-4.8,4.5,-5]],
  [5,[-1.5,-.4,-.8,-.6,-.2,-.9,.1,-.3,-.4,-.4]]
];

const contourGrey = '#777779';
const gridBg = '#eaeaf2';
const textCol = '#262626';

// 0..1 -> colour from the viridis stops
function viridisAt(t) {
  t = Math.max(0, Math.min(1, t)) * (viridis.length - 1);
  const i = Math.min(Math.floor(t), viridis.length - 2);
  const hex = s => [1, 3, 5].map(k => parseInt(s.substr(k, 2), 16));
  const c0 = hex(viridis[i]), c1 = hex(viridis[i + 1]);
  const c = c0.map((v, k) => Math.round(v + (c1[k] - v) * (t - i)));
  return `rgb(${c[0]},${c[1]},${c[2]})`;
}

function pairs(flat) {
  const out = [];
  for (let i = 0; i < flat.length; i += 2) out.push({ x: flat[i], y: flat[i + 1] });
  return out;
}

const panelBg = {
  id: 'panelBg',
  beforeDraw(chart) {
    const a = chart.chartArea, ctx = chart.ctx;
    ctx.save();
    ctx.fillStyle = gridBg;
    ctx.fillRect(a.left, a.top, a.width, a.height);
    ctx.restore();
  },
  // contour labels go right after the last contour, under the trajectories
  afterDatasetDraw(chart, args) {
    const o = chart.config.options.contourInfo;
    if (!o || args.index !== o.count - 1) return;
    const ctx = chart.ctx, a = chart.chartArea;
    ctx.save();
    ctx.beginPath();
    ctx.rect(a.left, a.top, a.width, a.height);
    ctx.clip();
    ctx.font = 'italic 12px "Liberation Sans", sans-serif';
    ctx.textAlign = 'center';
    ctx.textBaseline = 'middle';
    o.labels.forEach(l => {
      const px = chart.scales.x.getPixelForValue(l[0]);
      const py = chart.scales.y.getPixelForValue(l[1]);
      ctx.save();
      ctx.translate(px, py);
      ctx.rotate(l[3] * Math.PI / 180);
      const w = ctx.measureText(l[2]).width;
      ctx.fillStyle = gridBg;
      ctx.fillRect(-w / 2 - 1, -5, w + 2, 10);
      ctx.fillStyle = '#8c8c8e';
      ctx.fillText(l[2], 0, 0);
      ctx.restore();
    });
    ctx.restore();
  }
};

function addPanel(p) {
  const top = p.top - p.headH;
  const cv = document.createElement('canvas');
  const w = p.right - p.left + p.axisW + 12, h = p.bottom - top + p.footH;
  cv.width = w; cv.height = h;
  cv.style.cssText = `left:${p.left - p.axisW}px;top:${top}px;width:${w}px;height:${h}px`;
  document.getElementById('page').appendChild(cv);

  const cmap = v => viridisAt((v - p.cost[0]) / (p.cost[1] - p.cost[0]));
  const datasets = [];
  p.solid.forEach(c => datasets.push({ data: pairs(c), borderColor: contourGrey, borderWidth: 2.4, pointRadius: 0, tension: .4, showLine: true }));
  p.dashed.forEach(c => datasets.push({ data: pairs(c), borderColor: contourGrey, borderWidth: 2.4, borderDash: [8, 5], pointRadius: 0, tension: .4, showLine: true }));
  const count = datasets.length;
  (p.comb || []).forEach(t => datasets.push({ data: pairs(t[1]), borderColor: cmap(t[0]), borderWidth: 1.4, borderDash: [1, 1.5], pointRadius: 0, showLine: true }));
  p.traj.forEach(t => datasets.push({
    data: pairs(t[1]), borderColor: cmap(t[0]), backgroundColor: cmap(t[0]),
    borderWidth: p.lineW, pointRadius: p.dotR, pointBorderWidth: 0, showLine: true
  }));
  // first dataset is painted last, so reverse the stacking
  datasets.forEach((d, i) => { d.order = datasets.length - i; });

  const fixedTicks = vals => scale => { scale.ticks = vals.map(v => ({ value: v })); };
  const fmt = v => String(v).replace('-', '−');
  new Chart(cv.getContext('2d'), {
    type: 'scatter',
    data: { datasets },
    plugins: [panelBg],
    options: {
      animation: false, responsive: false,
      contourInfo: { count, labels: p.labels },
      layout: { padding: { right: 12 } },
      plugins: {
        legend: { display: false }, tooltip: { enabled: false },
        title: {
          display: true, fullSize: false, text: p.title, color: textCol,
          font: { family: 'Liberation Sans', size: p.titleSize, weight: 'normal', lineHeight: '18px' },
          padding: { top: p.headH - 18 - p.titleGap, bottom: p.titleGap }
        }
      },
      scales: {
        x: {
          type: 'linear', min: -p.xMax, max: p.xMax,
          afterBuildTicks: fixedTicks(p.xTicks),
          afterFit(s) { s.height = p.footH; },
          grid: { color: '#fff', lineWidth: 1.3, drawTicks: false }, border: { display: false },
          ticks: { callback: fmt, color: textCol, padding: p.tickPad, maxRotation: 0, font: { family: 'Liberation Sans', size: p.tickSize } },
          title: { display: true, text: 'Joint velocity (rad/s)', color: textCol, padding: { top: 0, bottom: p.xTitlePad }, font: { family: 'Liberation Sans', size: p.labelSize } }
        },
        y: {
          type: 'linear', min: -p.yMax, max: p.yMax,
          afterBuildTicks: fixedTicks(p.yTicks),
          afterFit(s) { s.width = p.axisW; },
          grid: { color: '#fff', lineWidth: 1.3, drawTicks: false }, border: { display: false },
          ticks: { callback: fmt, color: textCol, padding: 8, font: { family: 'Liberation Sans', size: p.tickSize } },
          title: { display: !!p.yTitle, text: p.yTitle || '', color: textCol, padding: { top: p.yTitlePad, bottom: 0 }, font: { family: 'Liberation Sans', size: p.labelSize } }
        }
      }
    }
  });
}

// 'Cost' reads bottom to top, which a right-hand axis title cannot do
const costTitle = {
  id: 'costTitle',
  afterDraw(chart) {
    const o = chart.config.options.costLabel, ctx = chart.ctx, a = chart.chartArea;
    ctx.save();
    ctx.translate(a.right + o.dx, (a.top + a.bottom) / 2);
    ctx.rotate(-Math.PI / 2);
    ctx.font = '16px "Liberation Sans", sans-serif';
    ctx.fillStyle = textCol;
    ctx.textAlign = 'center';
    ctx.textBaseline = 'middle';
    ctx.fillText(o.text, 0, 0);
    ctx.restore();
  }
};

function addColorbar(b) {
  const cv = document.createElement('canvas');
  const w = b.right - b.left + 58, h = b.bottom - b.top + 20;
  cv.width = w; cv.height = h;
  cv.style.cssText = `left:${b.left}px;top:${b.top - 10}px;width:${w}px;height:${h}px`;
  document.getElementById('page').appendChild(cv);
  new Chart(cv.getContext('2d'), {
    type: 'bar',
    data: {
      labels: ['Cost'],
      datasets: [{
        data: [b.cost],
        barPercentage: 1, categoryPercentage: 1,
        backgroundColor(ctx) {
          const a = ctx.chart.chartArea;
          if (!a) return viridis[0];
          const g = ctx.chart.ctx.createLinearGradient(0, a.bottom, 0, a.top);
          viridis.forEach((c, i) => g.addColorStop(i / (viridis.length - 1), c));
          return g;
        }
      }]
    },
    plugins: [costTitle],
    options: {
      animation: false, responsive: false,
      costLabel: { text: 'Cost', dx: b.labelDx },
      layout: { padding: { top: 10, bottom: 10 } },
      plugins: { legend: { display: false }, tooltip: { enabled: false } },
      scales: {
        x: { display: false },
        y: {
          position: 'right', min: b.cost[0], max: b.cost[1],
          afterBuildTicks(s) { s.ticks = b.ticks.map(v => ({ value: v })); },
          afterFit(s) { s.width = 58; s.paddingTop = 0; s.paddingBottom = 0; },
          grid: { drawOnChartArea: false, drawTicks: false }, border: { display: false },
          ticks: { color: textCol, padding: b.tickPad, font: { family: 'Liberation Sans', size: 14 } }
        }
      }
    }
  });
}

const rowA = { top: 25, bottom: 254, headH: 25, footH: 47, titleSize: 17, titleGap: 3, tickSize: 13, labelSize: 15.8, tickPad: 8, xTitlePad: 2, lineW: 1.6, dotR: 2.4, cost: costRangeA };
const rowB = { top: 378, bottom: 634, headH: 26, footH: 50, titleSize: 18, titleGap: 6, tickSize: 14, labelSize: 16.6, tickPad: 8, xTitlePad: 2, lineW: 2, dotR: 2.3, cost: costRangeB };
const rowC = { top: 762, bottom: 1017, headH: 26, footH: 50, titleSize: 18, titleGap: 6, tickSize: 14, labelSize: 16.6, tickPad: 8, xTitlePad: 2, lineW: 3, dotR: 0, cost: costRangeB };

addPanel({ ...rowA, title: 'Joint 0', left: 67, right: 213, axisW: 67, xMax: 10.6, yMax: 12, xTicks: ticksV0, yTicks: ticksT0, yTitle: 'Joint torque (Nm)', yTitlePad: 13, solid: a0Solid, dashed: a0Dashed, labels: a0Labels, traj: a0Traj });
addPanel({ ...rowA, title: 'Joint 1', left: 257, right: 402, axisW: 40, xMax: 8, yMax: 45, xTicks: ticksV, yTicks: ticksT1, solid: a1Solid, dashed: a1Dashed, labels: a1Labels, traj: a1Traj, lineW: 2.6, dotR: 2 });
addPanel({ ...rowA, title: 'Joint 2', left: 435, right: 580, axisW: 30, xMax: 8, yMax: 6, xTicks: ticksV, yTicks: ticksT2, solid: a2Solid, dashed: a2Dashed, labels: a2Labels, traj: a2Traj });
addColorbar({ left: 589, right: 601, top: 25, bottom: 254, cost: costRangeA, ticks: costTicksA, labelDx: 36, tickPad: 9 });

addPanel({ ...rowB, title: 'Joint 0', left: 73, right: 215, axisW: 73, xMax: 10.5, yMax: 12, xTicks: ticksV0, yTicks: ticksT0, yTitle: 'Joint torque (Nm)', yTitlePad: 13, solid: b0Solid, dashed: b0Dashed, labels: b0Labels, traj: b0Traj });
addPanel({ ...rowB, title: 'Joint 1', left: 258, right: 400, axisW: 40, xMax: 8, yMax: 45, xTicks: ticksV, yTicks: ticksT1, solid: b1Solid, dashed: b1Dashed, labels: b1Labels, traj: b1Traj });
addPanel({ ...rowB, title: 'Joint 2', left: 434, right: 576, axisW: 32, xMax: 8, yMax: 6, xTicks: ticksV, yTicks: ticksT2, solid: b2Solid, dashed: b2Dashed, labels: b2Labels, traj: b2Traj });
addColorbar({ left: 583, right: 596, top: 378, bottom: 634, cost: costRangeB, ticks: costTicksB, labelDx: 40, tickPad: 11 });

addPanel({ ...rowC, title: 'Joint 0', left: 73, right: 215, axisW: 73, xMax: 10.5, yMax: 12, xTicks: ticksV0, yTicks: ticksT0, yTitle: 'Joint torque (Nm)', yTitlePad: 13, solid: c0Solid, dashed: c0Dashed, labels: c0Labels, traj: c0Traj, comb: c0Comb });
addPanel({ ...rowC, title: 'Joint 1', left: 258, right: 400, axisW: 40, xMax: 8, yMax: 45, xTicks: ticksV, yTicks: ticksT1, solid: c1Solid, dashed: c1Dashed, labels: c1Labels, traj: c1Traj, comb: c1Comb });
addPanel({ ...rowC, title: 'Joint 2', left: 434, right: 576, axisW: 32, xMax: 8, yMax: 6, xTicks: ticksV, yTicks: ticksT2, solid: c2Solid, dashed: c2Dashed, labels: c2Labels, traj: c2Traj, comb: c2Comb });
addColorbar({ left: 583, right: 596, top: 762, bottom: 1017, cost: costRangeB, ticks: costTicksB, labelDx: 40, tickPad: 11 });
</script>
</body>
</html>
